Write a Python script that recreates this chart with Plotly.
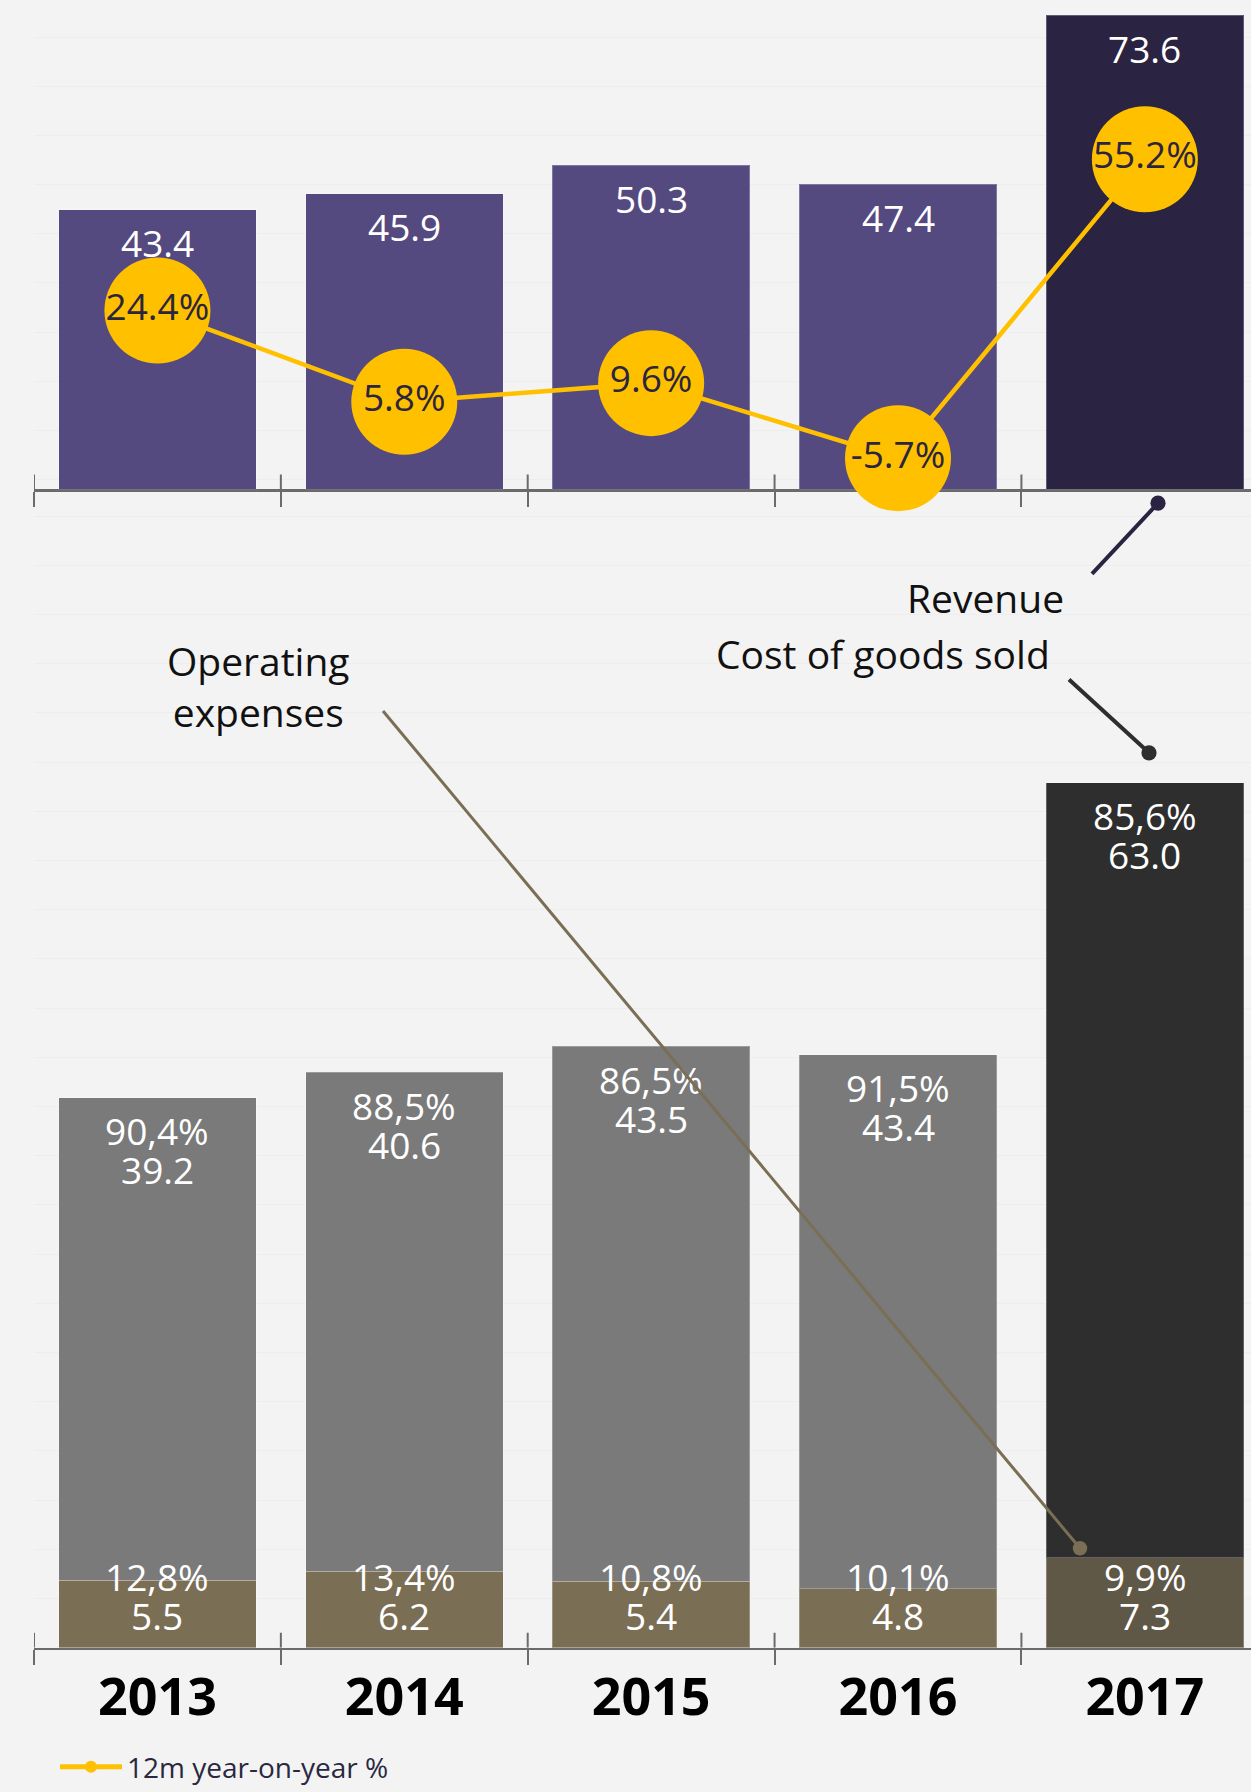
import plotly.graph_objects as go

# ---------------- data ----------------
years = ["2013", "2014", "2015", "2016", "2017"]
revenue = [43.4, 45.9, 50.3, 47.4, 73.6]
yoy_pct = [24.4, 5.8, 9.6, -5.7, 55.2]
cogs = [39.2, 40.6, 43.5, 43.4, 63.0]
cogs_pct = [90.4, 88.5, 86.5, 91.5, 85.6]
opex = [5.5, 6.2, 5.4, 4.8, 7.3]
opex_pct = [12.8, 13.4, 10.8, 10.1, 9.9]
legend_name = "12m year-on-year %"

# ---------------- style ----------------
W, H = 1251, 1792
ML = 34
FONT = "Open Sans"
BG = "#f3f3f3"
GRID = "#ededed"
AX = "#6b6b6b"
YEL = "#ffc000"
rev_colors = ["#554a80"] * 4 + ["#2a2342"]
cogs_colors = ["#7a7a7a"] * 4 + ["#2e2e2e"]
opex_colors = ["#7a6e55"] * 4 + ["#5f5846"]
LBL = 37


def px_x(x):
    return (x - ML) / (W - ML)


def px_y(y):
    return 1 - y / H


idx = list(range(len(years)))
bounds = [i - 0.5 for i in idx]
top_dom = [px_y(492), 1.0]
bot_dom = [px_y(1657), px_y(500)]
x_range = [-0.5, 4.43]

fig = go.Figure()

edge = dict(color="rgba(255,255,255,0.25)", width=1)
fig.add_bar(x=idx, y=revenue, xaxis="x", yaxis="y", marker=dict(color=rev_colors, line=edge),
            showlegend=False, hoverinfo="skip")
fig.add_bar(x=idx, y=opex, xaxis="x2", yaxis="y2", marker=dict(color=opex_colors, line=edge),
            showlegend=False, hoverinfo="skip")
fig.add_bar(x=idx, y=cogs, xaxis="x2", yaxis="y2", marker=dict(color=cogs_colors, line=edge),
            showlegend=False, hoverinfo="skip")
fig.add_scatter(x=idx, y=yoy_pct, xaxis="x", yaxis="y3", mode="lines+markers+text",
                name=legend_name,
                text=[f"{v:.1f}%" for v in yoy_pct], textposition="middle center",
                textfont=dict(size=37, color="#2b2540", family=FONT),
                line=dict(color=YEL, width=4.5), marker=dict(size=106, color=YEL),
                cliponaxis=False, hoverinfo="skip")

white = dict(size=LBL, color="white", family=FONT)
ann = []
for i, v in zip(idx, revenue):
    ann.append(dict(x=i, y=v, xref="x", yref="y", text=f"{v:.1f}", showarrow=False,
                    xanchor="center", yanchor="middle", yshift=-33, font=white))
for i, o, c, cp in zip(idx, opex, cogs, cogs_pct):
    ann.append(dict(x=i, y=o + c, xref="x2", yref="y2", text=f"{cp:.1f}%".replace(".", ","),
                    showarrow=False, xanchor="center", yanchor="middle", yshift=-33, font=white))
    ann.append(dict(x=i, y=o + c, xref="x2", yref="y2", text=f"{c:.1f}",
                    showarrow=False, xanchor="center", yanchor="middle", yshift=-72, font=white))
for i, o, op in zip(idx, opex, opex_pct):
    ann.append(dict(x=i, y=0, xref="x2", yref="y2", text=f"{op:.1f}%".replace(".", ","),
                    showarrow=False, xanchor="center", yanchor="middle", yshift=71, font=white))
    ann.append(dict(x=i, y=0, xref="x2", yref="y2", text=f"{o:.1f}",
                    showarrow=False, xanchor="center", yanchor="middle", yshift=32, font=white))

# series labels
dark = dict(size=39, color="#111111", family=FONT)
ann.append(dict(x=px_x(985), y=px_y(601), xref="paper", yref="paper", text="Revenue",
                showarrow=False, xanchor="center", yanchor="middle", font=dark))
ann.append(dict(x=px_x(883), y=px_y(657), xref="paper", yref="paper", text="Cost of goods sold",
                showarrow=False, xanchor="center", yanchor="middle", font=dark))
ann.append(dict(x=px_x(258), y=px_y(690), xref="paper", yref="paper", text="Operating<br>expenses",
                showarrow=False, xanchor="center", yanchor="middle", font=dark))
# connectors
ann.append(dict(x=px_x(1158), y=px_y(506), xref="paper", yref="paper", ax=-69, ay=74,
                showarrow=True, arrowhead=6, arrowsize=0.95, arrowwidth=4, arrowcolor="#2a2342",
                startstandoff=0))
ann.append(dict(x=px_x(1149), y=px_y(757), xref="paper", yref="paper", ax=-83, ay=-76,
                showarrow=True, arrowhead=6, arrowsize=0.95, arrowwidth=4, arrowcolor="#2e2e2e",
                startstandoff=0))
ann.append(dict(x=px_x(1080), y=px_y(1557), xref="paper", yref="paper", ax=-700, ay=-841,
                showarrow=True, arrowhead=6, arrowsize=1.2, arrowwidth=3, arrowcolor="#7a6e55",
                startstandoff=0))

# upper half of the crossing tick marks (category boundaries)
shapes = []
for b in bounds:
    shapes.append(dict(type="line", xref="x", yref="y", x0=b, x1=b, y0=0, y1=2.3,
                       line=dict(color=AX, width=2)))
    shapes.append(dict(type="line", xref="x2", yref="y2", x0=b, x1=b, y0=0, y1=1.21,
                       line=dict(color=AX, width=2)))

xcommon = dict(range=x_range, showline=True, linecolor=AX, linewidth=2.5,
               tickmode="array", tickvals=idx, ticktext=years,
               ticks="outside", ticklen=1, tickwidth=1, tickcolor="rgba(0,0,0,0)",
               minor=dict(tickmode="array", tickvals=bounds, ticks="outside", ticklen=15,
                          tickwidth=2, tickcolor=AX, showgrid=False),
               showgrid=False, zeroline=False, fixedrange=True)

fig.update_layout(
    width=W, height=H,
    margin=dict(l=ML, r=0, t=0, b=0),
    paper_bgcolor=BG, plot_bgcolor=BG,
    font=dict(family=FONT, color="#111111"),
    barmode="stack", bargap=0.2,
    xaxis=dict(domain=[0, 1], anchor="y", showticklabels=False, layer="below traces", **xcommon),
    xaxis2=dict(domain=[0, 1], anchor="y2", showticklabels=True, ticklabelstandoff=1,
                tickfont=dict(size=52, color="#000000", family=FONT, weight=700), **xcommon),
    yaxis=dict(domain=top_dom, anchor="x", range=[0, 76], showgrid=False, zeroline=False,
               showticklabels=False, ticks=""),
    yaxis3=dict(overlaying="y", anchor="x", range=[-12, 87.6], showgrid=True, gridcolor=GRID,
                gridwidth=1, dtick=10, tick0=0, zeroline=False, showticklabels=False, ticks=""),
    yaxis2=dict(domain=bot_dom, anchor="x2", range=[0, 93.53], showgrid=True, gridcolor=GRID,
                gridwidth=1, dtick=4, zeroline=False, showticklabels=False, ticks=""),
    annotations=ann,
    shapes=shapes,
    showlegend=True,
    legend=dict(x=px_x(55), y=px_y(1777), xanchor="left", yanchor="middle", orientation="h",
                font=dict(size=28, color="#2a2840", family=FONT), itemwidth=62,
                itemsizing="constant", bgcolor="rgba(0,0,0,0)"),
    hovermode=False,
)

fig.write_html(
    "out.html",
    config={"displayModeBar": False, "staticPlot": True},
    post_script=("document.documentElement.style.overflow='hidden';"
                 "document.body.style.overflow='hidden';"
                 "document.body.style.margin='0';"
                 "document.documentElement.style.background='#f3f3f3';"
                 "document.body.style.background='#f3f3f3';"),
)
